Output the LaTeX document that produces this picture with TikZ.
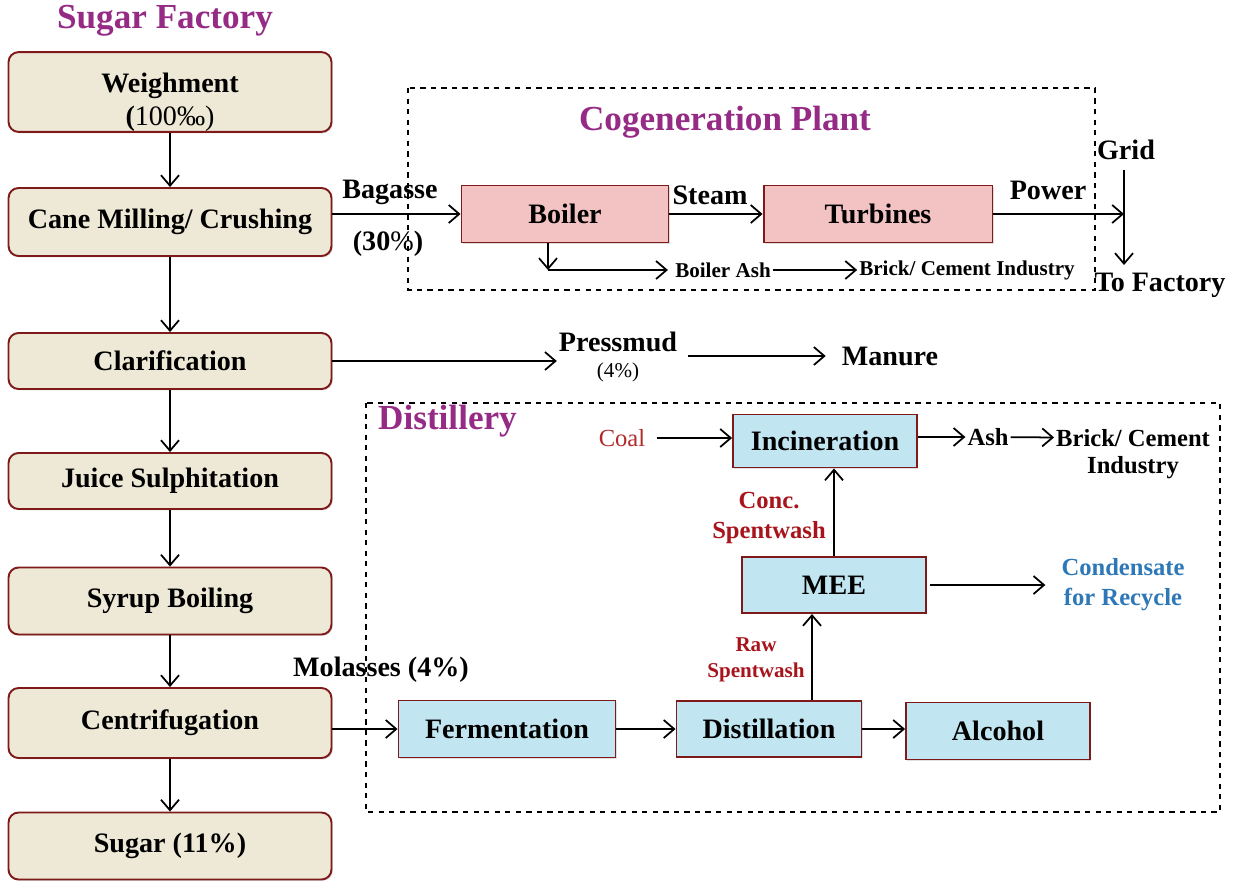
\documentclass[tikz,border=0pt]{standalone}
\usepackage{fontspec}
\setmainfont{Liberation Serif}
\usetikzlibrary{arrows.meta,shadows}
\definecolor{boxedge}{HTML}{7F1A1A}
\definecolor{sugarfill}{HTML}{EEE9D6}
\definecolor{cogenfill}{HTML}{F3C3C3}
\definecolor{distfill}{HTML}{C2E6F1}
\definecolor{titlepurple}{HTML}{952B85}
\definecolor{spentred}{HTML}{A8141B}
\definecolor{coalred}{HTML}{B22A2A}
\definecolor{condblue}{HTML}{2E78B7}
\tikzset{
  procbox/.style={draw=boxedge, line width=1.1pt, align=center, inner sep=0pt,
                  font=\bfseries\fontsize{16}{19}\selectfont,
                  drop shadow={opacity=0.25, shadow xshift=0.8pt, shadow yshift=-0.8pt}},
  sugarbox/.style={procbox, fill=sugarfill, rounded corners=2mm,
                   minimum width=6.46cm, minimum height=1.34cm},
  cogenbox/.style={procbox, fill=cogenfill, minimum height=1.14cm},
  distbox/.style={procbox, fill=distfill, minimum width=3.68cm, minimum height=1.14cm},
  lbl/.style={font=\bfseries\fontsize{16}{19}\selectfont, inner sep=1pt},
  midlbl/.style={font=\bfseries\fontsize{14}{17}\selectfont, inner sep=1pt, align=center},
  smalllbl/.style={font=\bfseries\fontsize{12}{14.5}\selectfont, inner sep=1pt, align=center},
  zonetitle/.style={font=\bfseries\fontsize{20}{24}\selectfont, text=titlepurple},
  flow/.style={->, line width=1pt},
  zone/.style={draw, dashed, line width=0.6pt},
}

\begin{document}
\begin{tikzpicture}[x=0.02cm, y=-0.02cm, >={Straight Barb[length=2.1mm,width=3.6mm]}]
    \useasboundingbox (0,0) rectangle (1239,887);

    % sugar factory column
    \node[zonetitle] (sftitle) at (165,21) {Sugar Factory};
    \node[sugarbox, minimum height=1.58cm] (weigh) at (170,92)
      {\rule{0pt}{23pt}Weighment\\\textbf{(}\textmd{100‰)}};
    \node[sugarbox, minimum height=1.36cm] (cane) at (170,222) {Cane Milling/ Crushing};
    \node[sugarbox, minimum height=1.12cm] (clar) at (170,361) {Clarification};
    \node[sugarbox, minimum height=1.12cm] (juice) at (170,481) {Juice Sulphitation};
    \node[sugarbox] (syrup) at (170,601) {Syrup Boiling};
    \node[sugarbox, minimum height=1.4cm] (centri) at (170,723) {Centrifugation};
    \node[sugarbox] (sugar) at (170,846) {Sugar (11\%)};
    \draw[flow] (weigh) -- (cane);
    \draw[flow] (cane) -- (clar);
    \draw[flow] (clar) -- (juice);
    \draw[flow] (juice) -- (syrup);
    \draw[flow] (syrup) -- (centri);
    \draw[flow] (centri) -- (sugar);

    % cogeneration plant
    \draw[zone] (408,88) rectangle (1095,290);
    \node[zonetitle] (cgtitle) at (725,122) {Cogeneration Plant};
    \node[cogenbox, minimum width=4.14cm] (boiler) at (565,214) {Boiler};
    \node[cogenbox, minimum width=4.58cm] (turb) at (878,214) {Turbines};
    \node[lbl] (bag) at (390,192) {Bagasse};
    \node[lbl] (bagpct) at (388,244) {(30\textmd{\%})};
    \draw[flow] (cane.east |- boiler) -- (boiler.west);
    \node[lbl] (steam) at (710,195) {Steam};
    \draw[flow] (boiler) -- (turb);
    \node[lbl] (power) at (1048,190) {Power};
    \node[lbl] (grid) at (1126,150) {Grid};
    \node[lbl] (tofac) at (1160,285) {To Factory};
    \coordinate (gridtop) at (1124,170);
    \coordinate (gridbot) at (1124,265);
    \draw[flow] (turb) -- (turb -| gridtop);
    \draw[flow] (gridtop) -- (gridbot);
    \coordinate (ashturn) at (548,270);
    \node[smalllbl] (bash) at (723,270) {Boiler Ash};
    \node[smalllbl] (bcem) at (967,270) {Brick/ Cement Industry};
    \draw[flow] (boiler.south -| ashturn) -- (ashturn);
    \draw[flow, shorten >=3pt] (ashturn) -- (ashturn -| bash.west);
    \draw[flow] (bash) -- (bcem);

    % pressmud
    \node[lbl] (pmud) at (618,342) {Pressmud};
    \node[font=\fontsize{12}{14}\selectfont] (pmudpct) at (618,372) {(4\%)};
    \node[lbl] (manure) at (890,356) {Manure};
    \draw[flow] (clar) -- (clar -| pmud.west);
    \draw[flow, shorten <=5pt, shorten >=8pt] (pmud.east |- manure) -- (manure.west);

    % distillery
    \draw[zone] (366,403) rectangle (1220,812);
    \node[zonetitle, anchor=west] (dtitle) at (372,421) {Distillery};
    \node[distbox, minimum height=1.06cm] (incin) at (825,441) {Incineration};
    \node[font=\fontsize{14}{17}\selectfont, text=coalred] (coal) at (622,438) {Coal};
    \draw[flow, shorten <=3pt] (coal) -- (coal -| incin.west);
    \node[midlbl] (iash) at (988,437) {Ash};
    \draw[flow] (incin.east |- iash) -- (iash.west);
    \node[midlbl] (brick) at (1133,438) {Brick/ Cement};
    \node[midlbl] (indus) at (1133,468) {Industry};
    \draw[flow] (iash) -- (brick);
    \node[distbox, minimum height=1.12cm] (mee) at (834,585) {MEE};
    \draw[flow] (mee) -- (mee |- incin.south);
    \node[midlbl, text=spentred] (conc) at (769,518) {Conc.\\Spentwash};
    \node[midlbl, text=condblue] (cond) at (1123,585) {Condensate\\for Recycle};
    \draw[flow, shorten <=2pt, shorten >=8pt] (mee) -- (mee -| cond.west);
    \node[distbox, minimum width=4.34cm] (ferm) at (507,729) {Fermentation};
    \node[distbox, minimum width=3.7cm, minimum height=1.12cm] (dist) at (769,729) {Distillation};
    \node[distbox] (alc) at (998,731) {Alcohol};
    \node[lbl] (mol) at (381,670) {Molasses (4\%)};
    \draw[flow] (centri.east |- ferm) -- (ferm.west);
    \draw[flow] (ferm) -- (dist);
    \draw[flow] (dist.east) -- (dist.east -| alc.west);
    \draw[flow] ([xshift=0.86cm]dist.north) -- ([xshift=0.86cm]dist.north |- mee.south);
    \node[smalllbl, text=spentred] (raw) at (756,660) {Raw\\Spentwash};
  \end{tikzpicture}
\end{document}
